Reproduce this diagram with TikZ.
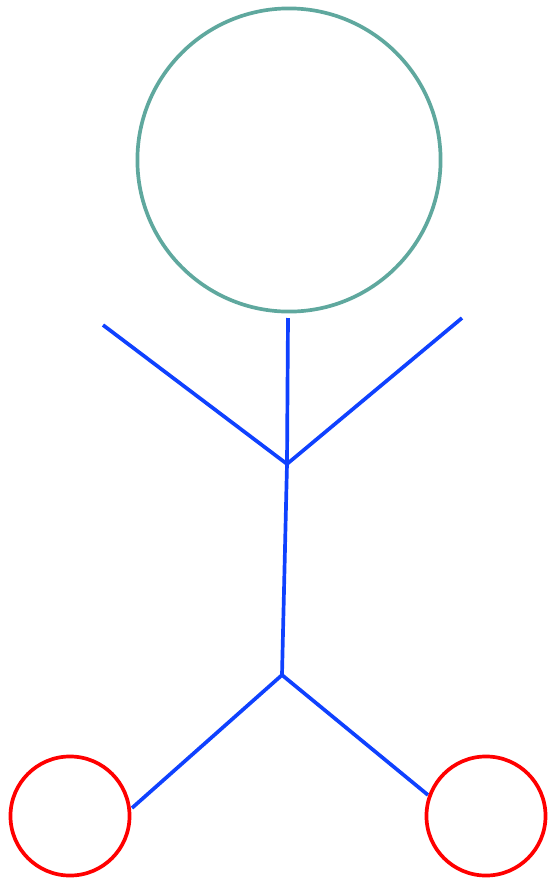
\documentclass[tikz,border=0pt]{standalone}
\usepackage{tikz}
\usetikzlibrary{calc,positioning}
\definecolor{headteal}{RGB}{95,168,158}
\definecolor{limbblue}{RGB}{15,65,255}
\definecolor{footred}{RGB}{255,0,0}
\begin{document}
\begin{tikzpicture}[x=0.01cm, y=-0.01cm,
    headring/.style={circle, draw=headteal, line width=1.05pt, inner sep=0pt, minimum size=3.03cm},
    footring/.style={circle, draw=footred, line width=1.05pt, inner sep=0pt, minimum size=1.19cm},
    limb/.style={draw=limbblue, line width=1.05pt}]
            \useasboundingbox (0,0) rectangle (550,884);
            % Draw the head
            \node[headring] (head) at (289,160) {};
            % Points of the body
            \coordinate (neck) at (288,318);
            \coordinate (chest) at (287,464);
            \coordinate (hip) at (282,675);
            \coordinate (lhand) at (103,325);
            \coordinate (rhand) at (462,318);
            \coordinate (lankle) at (132,808);
            \coordinate (rankle) at (428,795);
            % Draw the body and the arms
            \draw[limb] (neck) -- (chest) -- (hip);
            \draw[limb] (lhand) -- (chest) -- (rhand);
            % Draw the legs
            \draw[limb] (lankle) -- (hip) -- (rankle);
            % Draw the feet
            \node[footring] (lfoot) at (70,816) {};
            \node[footring] (rfoot) at (486,816) {};
          \end{tikzpicture}
\end{document}
